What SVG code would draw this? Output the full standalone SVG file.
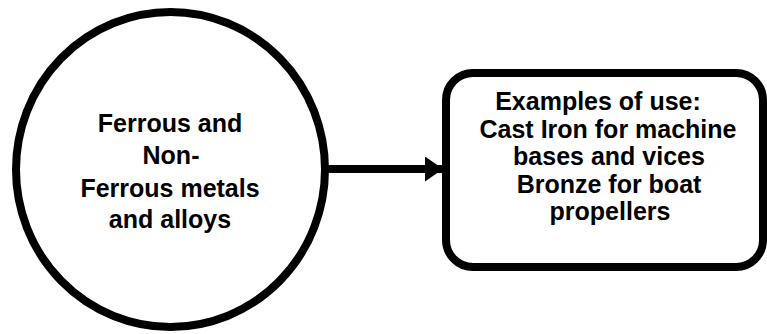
<svg xmlns="http://www.w3.org/2000/svg" width="767" height="334" viewBox="0 0 767 334">
<defs>
<style>
.shape{fill:#fff;stroke:#000;stroke-width:8}
.lbl{font-family:"Liberation Sans",Arial,sans-serif;font-weight:bold;font-size:25px;fill:#000;text-anchor:middle}
.conn{stroke:#000;stroke-width:8;fill:none}
</style>
<marker id="arrow" markerUnits="userSpaceOnUse" markerWidth="20" markerHeight="26" refX="18" refY="12.5" orient="auto">
<path d="M0,0 L18,12.5 L0,25 Z" fill="#000"/>
</marker>
</defs>
<rect width="767" height="334" fill="#fff"/>
<g id="connectors">
<line class="conn" x1="328" y1="169" x2="443" y2="169" marker-end="url(#arrow)"/>
</g>
<g id="node-materials">
<ellipse class="shape" cx="170.5" cy="169.5" rx="154.5" ry="157.5"/>
<text class="lbl" x="170" y="132">Ferrous and</text>
<text class="lbl" x="171" y="164">Non-</text>
<text class="lbl" x="170" y="197">Ferrous metals</text>
<text class="lbl" x="170" y="228">and alloys</text>
</g>
<g id="node-examples">
<rect class="shape" x="446" y="73" width="317" height="194" rx="27" ry="27" stroke-width="7"/>
<text class="lbl" x="598" y="110">Examples of use:</text>
<text class="lbl" x="608" y="138">Cast Iron for machine</text>
<text class="lbl" x="609" y="165">bases and vices</text>
<text class="lbl" x="609" y="193">Bronze for boat</text>
<text class="lbl" x="610" y="220">propellers</text>
</g>
</svg>
